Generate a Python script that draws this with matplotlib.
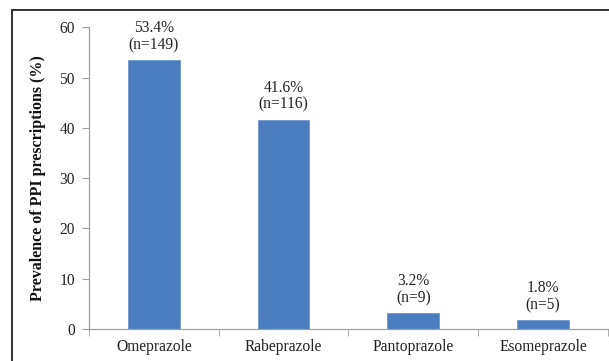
import matplotlib.pyplot as plt
from matplotlib.lines import Line2D
import numpy as np

drugs = ["Omeprazole", "Rabeprazole", "Pantoprazole", "Esomeprazole"]
prevalence = [53.4, 41.6, 3.2, 1.8]
counts = [149, 116, 9, 5]

plt.rcParams['font.family'] = ['Liberation Serif', 'DejaVu Serif']

fig = plt.figure(figsize=(6.09, 3.61), dpi=100)
ax = fig.add_axes([0.146, 0.0886, 0.852, 0.836])

x = np.arange(len(drugs))
bars = ax.bar(x, prevalence, 0.4, color='#4A7EBF', edgecolor='#6E98CC', linewidth=0.6)

for xi, v, n in zip(x, prevalence, counts):
    ax.annotate(f"{v}%\n(n={n})", (xi, v), xytext=(0, 5), textcoords='offset points',
                ha='center', va='bottom', fontsize=11.2, linespacing=1.1, color='#222222')

ax.set_xlim(-0.5, len(drugs) - 0.5)
ax.set_ylim(0, 60)
ax.set_yticks(range(0, 61, 10))
ax.set_xticks(x, drugs)
ax.set_xticks(np.arange(-0.5, len(drugs), 1), minor=True)
ax.tick_params(axis='x', which='major', length=0, pad=7, labelsize=11.2, labelcolor='#222222')
ax.tick_params(axis='x', which='minor', length=5, color='#A0A0A0', direction='out')
ax.tick_params(axis='y', length=5, color='#A0A0A0', labelsize=11.2, pad=5, labelcolor='#222222')

for s in ['top', 'right']:
    ax.spines[s].set_visible(False)
for s in ['left', 'bottom']:
    ax.spines[s].set_color('#A0A0A0')
    ax.spines[s].set_linewidth(0.9)

ax.set_ylabel('Prevalence of PPI prescriptions (%)', fontweight='bold', fontsize=11.5,
              color='#111111')
ax.yaxis.set_label_coords(-0.083, 0.5)

# outer frame (cropped at right and bottom)
fig.add_artist(Line2D([12/609, 12/609], [0, 1 - 10/361], transform=fig.transFigure,
                      color='#333333', linewidth=1.4))
fig.add_artist(Line2D([12/609, 1], [1 - 10/361, 1 - 10/361], transform=fig.transFigure,
                      color='#333333', linewidth=1.4))

fig.savefig('out.png', dpi=100)
